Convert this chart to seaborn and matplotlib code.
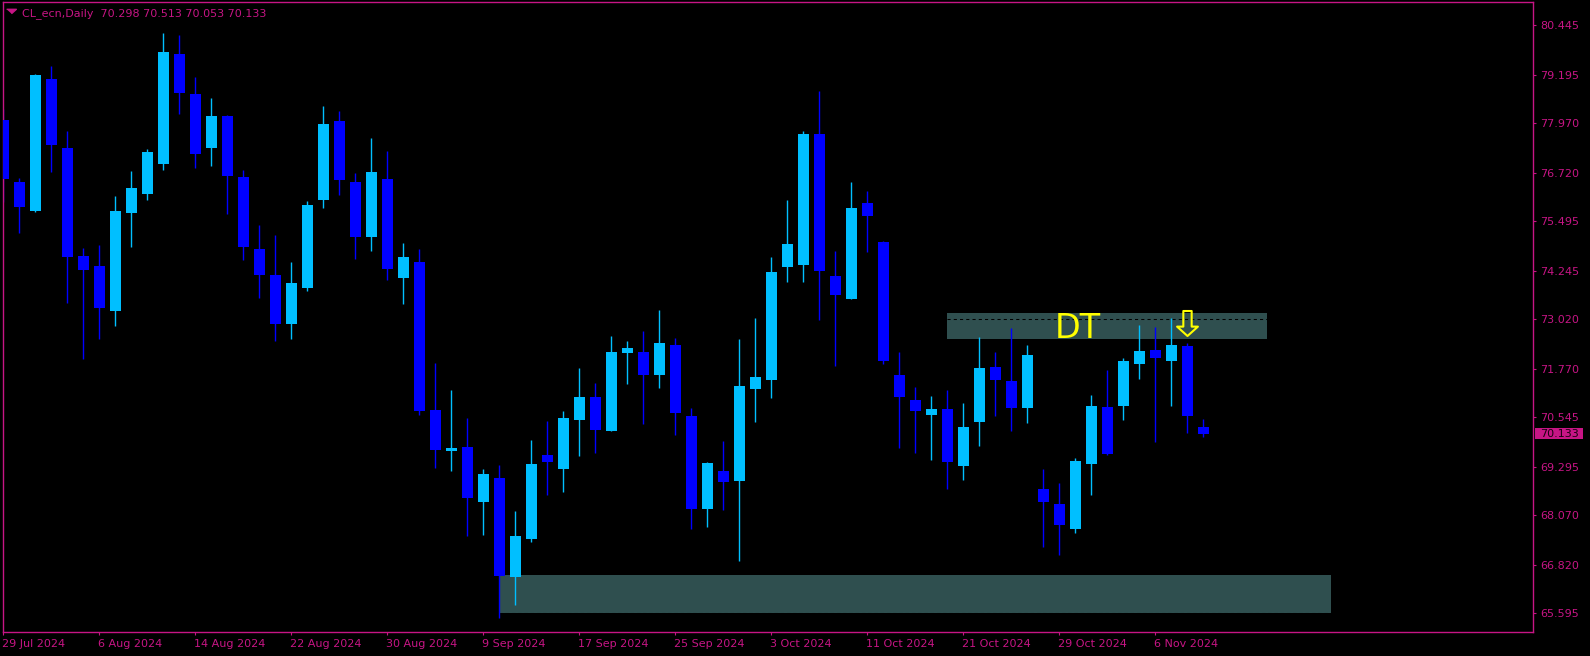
import numpy as np
import seaborn as sns
from matplotlib import pyplot as plt
from matplotlib.lines import Line2D
from matplotlib.patches import Rectangle
from matplotlib.path import Path
from matplotlib import transforms

# daily OHLC of CL_ecn, 29 Jul 2024 .. 11 Nov 2024 (one value per bar)
opens = [78.05, 76.48, 75.75, 79.08, 77.34, 74.62, 74.36, 73.22, 75.71, 76.17,
         76.95, 79.72, 78.71, 77.35, 78.15, 76.61, 74.80, 74.13, 72.89, 73.82,
         76.02, 78.03, 76.48, 75.10, 76.56, 74.07, 74.46, 70.74, 69.69, 69.80,
         68.42, 69.01, 66.52, 67.48, 69.59, 69.23, 70.49, 71.06, 70.19, 72.16,
         72.20, 71.62, 72.37, 70.58, 68.24, 69.19, 68.95, 71.27, 71.48, 74.35,
         74.40, 77.70, 74.11, 73.53, 75.96, 74.97, 71.61, 70.98, 70.61, 70.76,
         69.32, 70.42, 71.82, 71.47, 70.77, 68.74, 68.35, 67.72, 69.36, 70.81,
         70.84, 71.88, 72.25, 71.98, 72.34, 70.298]
highs = [78.32, 76.59, 79.21, 79.41, 77.77, 74.83, 74.90, 76.13, 76.76, 77.31,
         80.24, 80.20, 79.13, 78.61, 78.17, 76.79, 75.40, 75.14, 74.47, 76.01,
         78.40, 78.27, 76.70, 77.60, 77.26, 74.95, 74.79, 71.92, 71.24, 70.53,
         69.24, 69.35, 68.18, 69.97, 70.46, 70.70, 71.79, 71.42, 72.60, 72.48,
         72.72, 73.26, 72.55, 70.78, 69.42, 69.95, 72.52, 73.05, 74.59, 76.03,
         77.77, 78.78, 74.74, 76.48, 76.26, 75.00, 72.20, 71.31, 71.09, 71.24,
         70.91, 72.57, 72.20, 72.80, 72.37, 69.24, 68.89, 69.52, 71.11, 71.74,
         72.04, 72.88, 72.83, 73.05, 72.42, 70.513]
lows = [75.98, 75.21, 75.73, 76.75, 73.44, 72.02, 72.52, 72.85, 74.85, 76.03,
        76.80, 78.20, 76.83, 76.89, 75.69, 74.52, 73.56, 72.46, 72.52, 73.73,
        75.82, 76.15, 74.55, 74.75, 74.01, 73.40, 70.61, 69.27, 69.20, 67.56,
        67.58, 65.49, 65.82, 67.41, 68.58, 68.67, 69.58, 69.65, 70.19, 71.38,
        70.38, 71.29, 70.09, 67.72, 67.79, 68.20, 66.93, 70.42, 71.04, 73.95,
        73.97, 73.01, 71.84, 73.53, 74.72, 71.90, 69.76, 69.65, 69.48, 68.73,
        68.97, 69.82, 70.58, 70.21, 70.39, 67.28, 67.08, 67.62, 68.58, 69.60,
        70.49, 71.52, 69.93, 70.83, 70.16, 70.053]
closes = [76.57, 75.86, 79.18, 77.43, 74.60, 74.27, 73.30, 75.75, 76.33, 77.25,
          79.77, 78.72, 77.20, 78.15, 76.64, 74.85, 74.15, 72.91, 73.94, 75.91,
          77.95, 76.53, 75.10, 76.74, 74.30, 74.59, 70.70, 69.71, 69.77, 68.52,
          69.12, 66.55, 67.55, 69.37, 69.41, 70.53, 71.06, 70.23, 72.20, 72.29,
          71.61, 72.43, 70.66, 68.22, 69.40, 68.91, 71.33, 71.56, 74.22, 74.92,
          77.70, 74.23, 73.63, 75.82, 75.63, 71.97, 71.06, 70.70, 70.76, 69.41,
          70.30, 71.79, 71.49, 70.79, 72.12, 68.40, 67.84, 69.45, 70.83, 69.63,
          71.97, 72.22, 72.04, 72.37, 70.58, 70.133]

date_labels = ["29 Jul 2024", "6 Aug 2024", "14 Aug 2024", "22 Aug 2024",
               "30 Aug 2024", "9 Sep 2024", "17 Sep 2024", "25 Sep 2024",
               "3 Oct 2024", "11 Oct 2024", "21 Oct 2024", "29 Oct 2024",
               "6 Nov 2024"]
price_labels = ["80.445", "79.195", "77.970", "76.720", "75.495", "74.245",
                "73.020", "71.770", "70.545", "69.295", "68.070", "66.820",
                "65.595"]

# zones: [first bar, last bar, bottom price, top price, dashed level]
top_zone = [59, 79, 72.53, 73.19, 73.02]
bottom_zone = [31, 83, 65.60, 66.57, 65.60]
signal_bar = 74

magenta = "#C71585"
bull_col = "#00BFFF"
bear_col = "#0000FF"
zone_col = "#2F4F4F"

sns.set_style("dark", {"axes.facecolor": "black", "figure.facecolor": "black"})
plt.rcParams["font.family"] = ["DejaVu Sans"]

f = plt.figure(figsize=(15.9, 6.56), dpi=100)
ax = f.add_axes([2.7 / 1590, 1 - 631.7 / 656, 1530.6 / 1590, 630.0 / 656])

o = np.array(opens)
h = np.array(highs)
lo = np.array(lows)
c = np.array(closes)
x = np.arange(len(o))
cols = [bull_col if cc >= oo else bear_col for oo, cc in zip(o, c)]

# zones behind the candles
for z in (top_zone, bottom_zone):
    ax.add_patch(Rectangle((z[0], z[2]), z[1] - z[0], z[3] - z[2],
                           facecolor=zone_col, edgecolor="none", zorder=1))
    ax.hlines(z[4], z[0], z[1], colors="black", linestyles=(0, (3, 3)),
              linewidth=0.75, zorder=1.5)

ax.vlines(x, lo, h, colors=cols, linewidth=1, zorder=2)
ax.bar(x, np.maximum(np.abs(c - o), 0.06), bottom=np.minimum(o, c), width=0.69,
       color=cols, linewidth=0, zorder=3)

# DT label and signal arrow
ax.text(65.7, top_zone[2] + 0.02, "DT", color="yellow", fontsize=24,
        ha="left", va="baseline", zorder=5)
arrow = Path([(-0.2, 0.6), (0.2, 0.6), (0.2, -0.15), (0.5, -0.15), (0, -0.6),
              (-0.5, -0.15), (-0.2, -0.15), (-0.2, 0.6)], closed=True)
ax.plot([signal_bar], [(top_zone[2] + top_zone[3]) / 2 + 0.06], marker=arrow,
        markersize=18, markerfacecolor="none", markeredgecolor="yellow",
        markeredgewidth=1.5, linestyle="none", zorder=6)

ax.set_xlim(-0.04, 95.62)
ax.set_ylim(65.135, 81.036)

# axes, ticks, labels
ax.set_xticks(np.arange(len(date_labels)) * 6)
ax.set_xticklabels(date_labels, ha="left")
ax.set_yticks([float(p) for p in price_labels])
ax.set_yticklabels(price_labels)
ax.yaxis.tick_right()
ax.tick_params(axis="both", colors=magenta, labelsize=8, length=2.5,
               width=0.8, direction="out", bottom=True, right=True, left=False)
ax.tick_params(axis="x", pad=2.5)
ax.tick_params(axis="y", pad=2.4)
for lab in ax.get_xticklabels():
    lab.set_transform(lab.get_transform() + transforms.ScaledTranslation(-1 / 100, 0, f.dpi_scale_trans))
ax.grid(False)
for s in ax.spines.values():
    s.set_color(magenta)
    s.set_linewidth(1)
    s.set_visible(True)

# current price box
tr = transforms.blended_transform_factory(ax.transAxes, ax.transData)
ax.add_patch(Rectangle((1.0011, closes[-1] - 0.139), 0.0314, 0.278,
                       transform=tr, facecolor=magenta, edgecolor="none",
                       clip_on=False, zorder=7))
ax.text(1.0046, closes[-1], f"{closes[-1]:.3f}", transform=tr, color="#1a0010",
        fontsize=8, ha="left", va="center", clip_on=False, zorder=8)

# title line
f.add_artist(Line2D([10.5 / 1590], [1 - 10.7 / 656], transform=f.transFigure,
                    marker=[(-1, 0.45), (1, 0.45), (0, -0.45)], markersize=7,
                    color=magenta, linestyle="none"))
f.text(21.7 / 1590, 1 - 16.3 / 656,
       "CL_ecn,Daily  " + " ".join(f"{v:.3f}" for v in
                                   (opens[-1], highs[-1], lows[-1], closes[-1])),
       color=magenta, fontsize=8, ha="left", va="baseline")

f.savefig("out.png", dpi=100, facecolor="black")
